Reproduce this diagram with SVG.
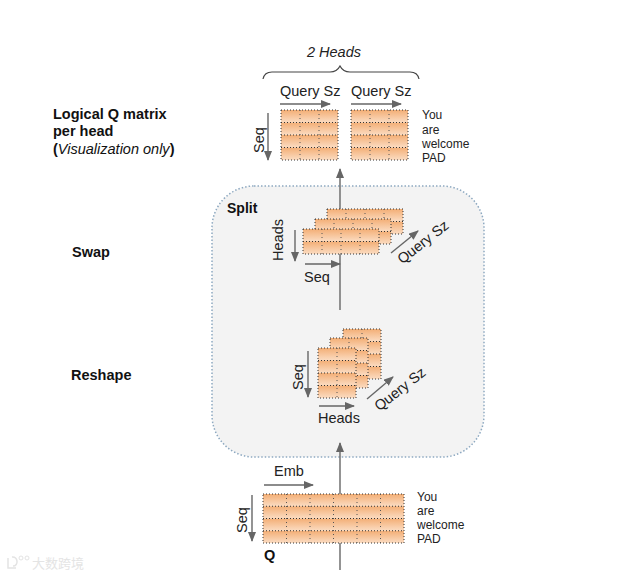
<svg xmlns="http://www.w3.org/2000/svg" width="637" height="577" viewBox="0 0 637 577">
<style>
text{font-family:"Liberation Sans",Arial,sans-serif;fill:#222}
.t14{font-size:14.5px}.t12{font-size:12px}.b{font-weight:bold;font-size:14.5px;fill:#111}
.ax{fill:none;stroke:#666;stroke-width:1.4;marker-end:url(#ah)}
.ln{fill:none;stroke:#666;stroke-width:1.4}
.r{fill:url(#cell)}
.g{fill:none;stroke:#333;stroke-width:1;stroke-dasharray:1 2}
.v{fill:none;stroke:#555;stroke-width:1;stroke-dasharray:1 3}
</style>
<defs>
<linearGradient id="cell" x1="0" y1="0" x2="0" y2="1"><stop offset="0" stop-color="#f3ae75"/><stop offset="1" stop-color="#fbdcc2"/></linearGradient>
<marker id="ah" markerWidth="10" markerHeight="8" refX="9" refY="4" orient="auto" markerUnits="userSpaceOnUse"><path d="M0 0L10 4L0 8Z" fill="#666"/></marker>
<g id="m3x4"><rect class="r" width="57" height="12.500"/><rect class="r" y="12.500" width="57" height="12.500"/><rect class="r" y="25" width="57" height="12.500"/><rect class="r" y="37.500" width="57" height="12.500"/><path class="g" d="M0 0H57V50H0ZM0 12.500H57M0 25H57M0 37.500H57"/><path class="v" d="M19 0V50M38 0V50"/></g>
<g id="m6x2"><rect class="r" width="76" height="12.500"/><rect class="r" y="12.500" width="76" height="12.500"/><path class="g" d="M0 0H76V25H0ZM0 12.500H76"/><path class="v" d="M19 0V25M38 0V25M57 0V25"/></g>
<g id="m2x4"><rect class="r" width="38" height="12.500"/><rect class="r" y="12.500" width="38" height="12.500"/><rect class="r" y="25" width="38" height="12.500"/><rect class="r" y="37.500" width="38" height="12.500"/><path class="g" d="M0 0H38V50H0ZM0 12.500H38M0 25H38M0 37.500H38"/><path class="v" d="M19 0V50"/></g>
<g id="m6x4"><rect class="r" width="141" height="12.250"/><rect class="r" y="12.250" width="141" height="12.250"/><rect class="r" y="24.500" width="141" height="12.250"/><rect class="r" y="36.750" width="141" height="12.250"/><path class="g" d="M0 0H141V49H0ZM0 12.250H141M0 24.500H141M0 36.750H141"/><path class="v" d="M23.500 0V49M47 0V49M70.500 0V49M94 0V49M117.500 0V49"/></g>
</defs>
<rect width="637" height="577" fill="#fff"/>
<g id="split">
<rect x="212" y="186" width="272" height="271" rx="42" fill="#f3f3f3" stroke="#8ea9c1" stroke-width="1.500" stroke-dasharray="1.500 2"/>
<text x="227" y="213" class="b" style="font-size:14px">Split</text>
</g>
<g id="connectors">
<path class="ax" d="M340 210V169"/>
<path class="ln" d="M340 310V254"/>
<path class="ax" d="M340 494V443"/>
<path class="ln" d="M340 570V543"/>
</g>
<g id="head-labels">
<text x="334" y="57" class="t14" font-style="italic" text-anchor="middle">2 Heads</text>
<path d="M263 79C264 74 267 72 272 72H330C335 72 338 70 340 66C342 70 345 72 350 72H410C415 72 418 74 419 79" fill="none" stroke="#444" stroke-width="1.200"/>
</g>
<g id="logical-q">
<use href="#m3x4" x="281" y="110"/>
<use href="#m3x4" x="351" y="110"/>
<text x="280" y="96" class="t14">Query Sz</text>
<text x="351" y="96" class="t14">Query Sz</text>
<path class="ax" d="M280 104H330"/>
<path class="ax" d="M351 104H401"/>
<path class="ax" d="M268 113V160"/>
<text transform="translate(264 140) rotate(-90)" class="t14" text-anchor="middle">Seq</text>
<text x="422" y="119" class="t12">You</text>
<text x="422" y="134" class="t12">are</text>
<text x="422" y="148" class="t12">welcome</text>
<text x="422" y="162" class="t12">PAD</text>
</g>
<g id="logical-caption">
<text x="53" y="119" class="b">Logical Q matrix</text>
<text x="53" y="136" class="b">per head</text>
<text x="53" y="154" class="t14" style="fill:#111"><tspan font-weight="bold">(</tspan><tspan font-style="italic">Visualization only</tspan><tspan font-weight="bold">)</tspan></text>
</g>
<g id="swap">
<text x="72" y="257" class="b">Swap</text>
<use href="#m6x2" x="327" y="209"/>
<use href="#m6x2" x="315" y="219"/>
<use href="#m6x2" x="303" y="229"/>
<path class="ax" d="M295 230V261"/>
<text transform="translate(283 240) rotate(-90)" class="t14" text-anchor="middle">Heads</text>
<path class="ax" d="M305 264H340"/>
<text x="304" y="282" class="t14">Seq</text>
<path class="ax" d="M391 253L418 231"/>
<text transform="translate(426 246) rotate(-38)" class="t14" text-anchor="middle">Query Sz</text>
</g>
<g id="reshape">
<text x="71" y="380" class="b">Reshape</text>
<use href="#m2x4" x="343" y="329"/>
<use href="#m2x4" x="330" y="338"/>
<use href="#m2x4" x="318" y="348"/>
<path class="ax" d="M308 351V397"/>
<text transform="translate(303 377) rotate(-90)" class="t14" text-anchor="middle">Seq</text>
<path class="ax" d="M319 406H354"/>
<text x="318" y="423" class="t14">Heads</text>
<path class="ax" d="M367 399L393 377"/>
<text transform="translate(403 393) rotate(-38)" class="t14" text-anchor="middle">Query Sz</text>
</g>
<g id="q">
<use href="#m6x4" x="263" y="494"/>
<text x="274" y="476" class="t14">Emb</text>
<path class="ax" d="M264 485H313"/>
<path class="ax" d="M252 495V541"/>
<text transform="translate(247 520) rotate(-90)" class="t14" text-anchor="middle">Seq</text>
<text x="264" y="560" class="b">Q</text>
<text x="417" y="501" class="t12">You</text>
<text x="417" y="515" class="t12">are</text>
<text x="417" y="529" class="t12">welcome</text>
<text x="417" y="543" class="t12">PAD</text>
</g>
<g id="watermark">
<path d="M8 558V568H16M12 557C18 556 19 566 13 566" fill="none" stroke="#e4e4e4" stroke-width="1.500"/>
<circle cx="21" cy="558" r="2" fill="none" stroke="#e4e4e4"/><circle cx="27" cy="558" r="2" fill="none" stroke="#e4e4e4"/>
<text x="32" y="568" style="font-family:'Noto Sans CJK SC',sans-serif;font-size:13px;fill:#e4e4e4">大数跨境</text>
</g>
</svg>
